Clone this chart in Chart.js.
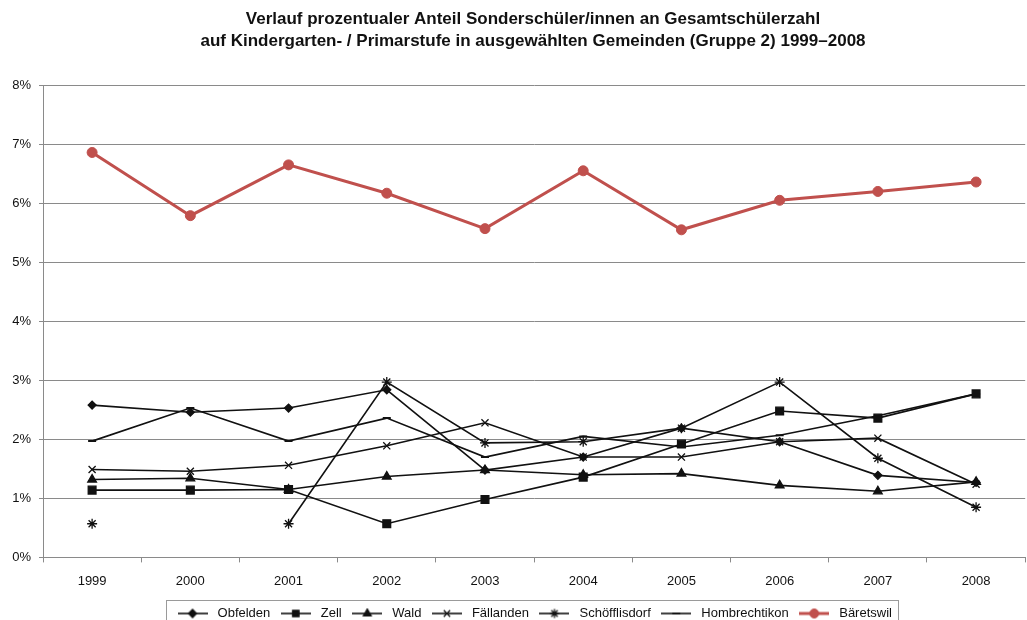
<!DOCTYPE html>
<html>
<head>
<meta charset="utf-8">
<script src="https://cdn.jsdelivr.net/npm/chart.js@4.4.0/dist/chart.umd.min.js"></script>
<style>
  html, body { margin: 0; padding: 0; background: #ffffff; overflow: hidden; }
  #wrap { width: 1032px; height: 630px; }
</style>
</head>
<body>
<div id="wrap"><canvas id="c" width="1032" height="630"></canvas></div>
<script>
// ---- data (percent values) ----
const years = ['1999', '2000', '2001', '2002', '2003', '2004', '2005', '2006', '2007', '2008'];
const obfelden      = [2.58, 2.46, 2.53, 2.84, 1.48, 1.70, 2.19, 1.96, 1.39, 1.27];
const zell          = [1.14, 1.14, 1.15, 0.57, 0.98, 1.36, 1.92, 2.48, 2.36, 2.77];
const wald          = [1.32, 1.34, 1.15, 1.37, 1.48, 1.40, 1.42, 1.22, 1.12, 1.28];
const faellanden    = [1.49, 1.46, 1.56, 1.89, 2.28, 1.70, 1.70, 1.96, 2.02, 1.24];
const schoefflisdorf= [0.57, null, 0.57, 2.97, 1.94, 1.96, 2.19, 2.97, 1.68, 0.85];
const hombrechtikon = [1.97, 2.53, 1.97, 2.36, 1.70, 2.05, 1.87, 2.07, 2.40, 2.77];
const baeretswil    = [6.86, 5.79, 6.65, 6.17, 5.57, 6.55, 5.55, 6.05, 6.20, 6.36];
const yTickStep = 1;
const yMin = 0;
const yMax = 8;
const titleLines = [
  'Verlauf prozentualer Anteil Sonderschüler/innen an Gesamtschülerzahl',
  'auf Kindergarten- / Primarstufe in ausgewählten Gemeinden (Gruppe 2) 1999–2008'
];

const FONT = "'Liberation Sans', Arial, sans-serif";
const BLACK = '#111111';
const RED = '#c0504d';
const GRID = '#8a8a8a';

function series(label, data, style, radius, opts) {
  return Object.assign({
    label: label,
    data: data,
    borderColor: BLACK,
    backgroundColor: BLACK,
    borderWidth: 1.6,
    pointStyle: style,
    pointRadius: radius,
    pointHoverRadius: radius,
    pointBackgroundColor: BLACK,
    pointBorderColor: BLACK,
    pointBorderWidth: 1.3,
    tension: 0,
    spanGaps: false
  }, opts || {});
}

const datasets = [
  series('Bäretswil', baeretswil, 'circle', 5, {
    borderColor: RED, backgroundColor: RED, borderWidth: 3,
    pointBackgroundColor: RED, pointBorderColor: RED, pointBorderWidth: 1
  }),
  series('Obfelden', obfelden, 'rectRot', 4),
  series('Zell', zell, 'rect', 5.5),
  series('Wald', wald, 'triangle', 5),
  series('Fällanden', faellanden, 'crossRot', 5),
  series('Schöfflisdorf', schoefflisdorf, 'star', 5),
  series('Hombrechtikon', hombrechtikon, 'line', 4, { pointBorderWidth: 2 })
];
const legendOrder = ['Obfelden', 'Zell', 'Wald', 'Fällanden', 'Schöfflisdorf', 'Hombrechtikon', 'Bäretswil'];

function makeIcon(ds) {
  const c = document.createElement('canvas');
  c.width = 30; c.height = 12;
  const ctx = c.getContext('2d');
  ctx.strokeStyle = ds.borderColor;
  ctx.lineWidth = ds.borderWidth;
  ctx.beginPath(); ctx.moveTo(0, 6); ctx.lineTo(30, 6); ctx.stroke();
  ctx.fillStyle = ds.pointBackgroundColor;
  ctx.strokeStyle = ds.pointBorderColor;
  ctx.lineWidth = ds.pointBorderWidth;
  Chart.helpers.drawPoint(ctx, {
    pointStyle: ds.pointStyle, rotation: 0,
    radius: Math.min(ds.pointRadius, 4.5), borderWidth: ds.pointBorderWidth
  }, 15, 6);
  return c;
}

const legendBoxPlugin = {
  id: 'legendBox',
  afterDraw(chart) {
    const lg = chart.legend;
    if (!lg || !lg.legendHitBoxes || !lg.legendHitBoxes.length) return;
    const hb = lg.legendHitBoxes;
    let l = Infinity, r = -Infinity, t = Infinity, b = -Infinity;
    hb.forEach(h => {
      l = Math.min(l, h.left); r = Math.max(r, h.left + h.width);
      t = Math.min(t, h.top); b = Math.max(b, h.top + h.height);
    });
    const ctx = chart.ctx;
    ctx.save();
    ctx.strokeStyle = '#9a9a9a';
    ctx.lineWidth = 1;
    ctx.strokeRect(Math.round(l - 8) + 0.5, Math.round(t - 7) + 0.5, Math.round(r - l + 14), Math.round(b - t + 20));
    ctx.restore();
  }
};

new Chart(document.getElementById('c'), {
  type: 'line',
  data: { labels: years, datasets: datasets },
  plugins: [legendBoxPlugin],
  options: {
    responsive: false,
    animation: false,
    layout: { padding: { left: 36, right: 2, top: 0, bottom: 0 } },
    plugins: {
      title: {
        display: true,
        text: titleLines,
        color: '#111',
        font: { family: FONT, size: 17, weight: 'bold', lineHeight: 1.3 },
        padding: { top: 8, bottom: 33 }
      },
      legend: {
        display: true,
        position: 'bottom',
        labels: {
          usePointStyle: true,
          pointStyleWidth: 37,
          padding: 7,
          color: '#111',
          font: { family: FONT, size: 13 },
          generateLabels(chart) {
            return legendOrder.map(name => {
              const i = chart.data.datasets.findIndex(d => d.label === name);
              const ds = chart.data.datasets[i];
              return {
                text: ds.label,
                datasetIndex: i,
                pointStyle: makeIcon(ds),
                fillStyle: ds.borderColor,
                strokeStyle: ds.borderColor,
                lineWidth: 0,
                hidden: false,
                fontColor: '#111'
              };
            });
          }
        }
      },
      tooltip: { enabled: false }
    },
    scales: {
      x: {
        type: 'category',
        offset: true,
        grid: {
          display: true,
          drawOnChartArea: false,
          drawTicks: true,
          tickLength: 5,
          color: GRID,
          offset: true
        },
        border: { display: true, color: GRID, width: 1 },
        ticks: {
          color: '#111',
          font: { family: FONT, size: 13 },
          padding: 11,
          maxRotation: 0
        }
      },
      y: {
        min: yMin,
        max: yMax,
        afterFit(scale) {
          scale.width = 7;
          scale._computeLabelArea = function () { return undefined; };
        },
        grid: {
          color: GRID,
          lineWidth: 1,
          tickLength: 4,
          drawTicks: true
        },
        border: { display: true, color: GRID, width: 1 },
        ticks: {
          stepSize: yTickStep,
          color: '#111',
          font: { family: FONT, size: 13 },
          padding: 8,
          callback: v => v + '%'
        }
      }
    }
  }
});
</script>
</body>
</html>
